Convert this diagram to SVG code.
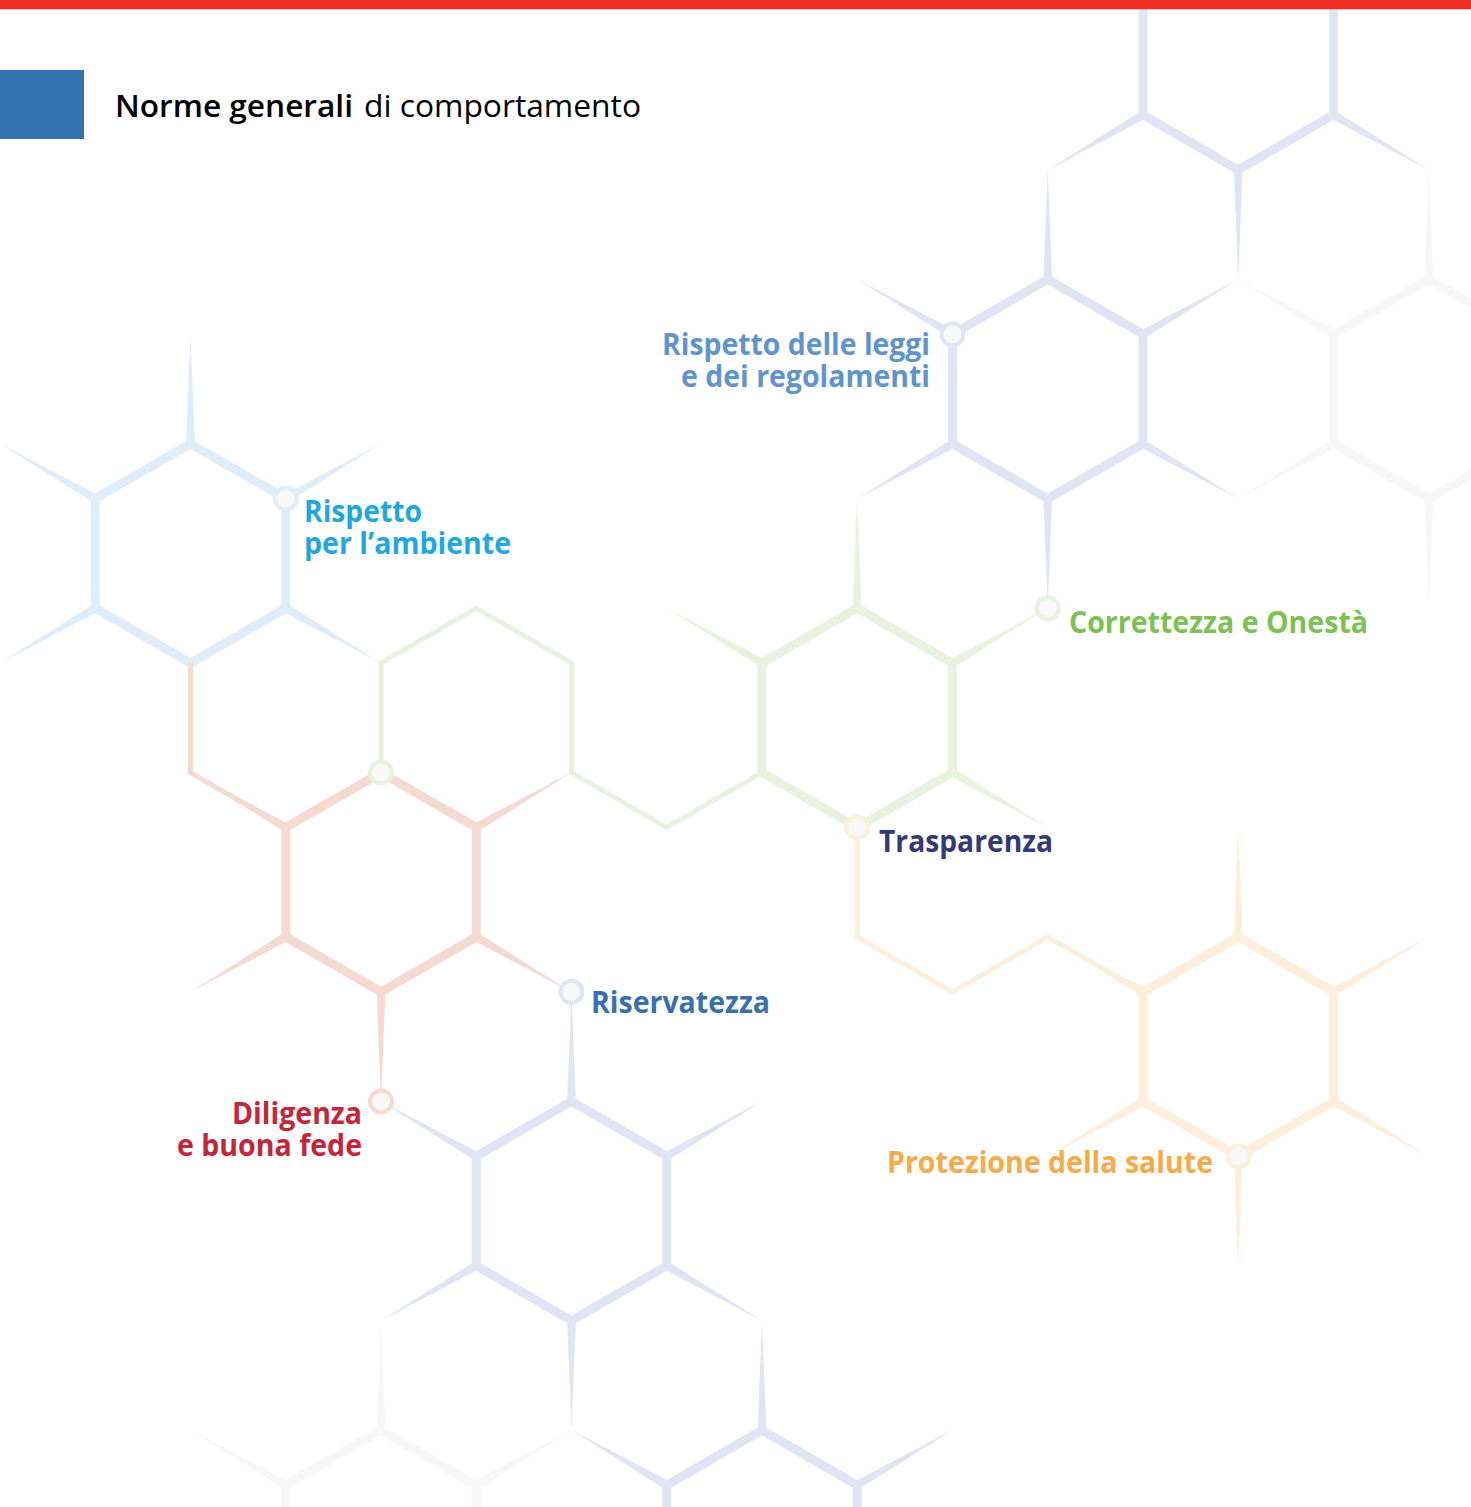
<svg xmlns="http://www.w3.org/2000/svg" xmlns:xlink="http://www.w3.org/1999/xlink" width="1471" height="1507" viewBox="0 0 1471 1507">
<defs>
<polygon id="sp" points="-3,-4.5 110,0 -3,4.5"/>
<style>
.tk{fill:none;stroke-width:9;stroke-linejoin:miter;stroke-linecap:butt}
.tn{fill:none;stroke-width:5;stroke-linejoin:miter;stroke-linecap:butt}
.gy{fill:#f7f7f7;stroke:#f7f7f7}
.lv{fill:#dfe5f2;stroke:#dfe5f2}
.bl{fill:#dfedf9;stroke:#dfedf9}
.rd{fill:#f5dad2;stroke:#f5dad2}
.gr{fill:#e7f3df;stroke:#e7f3df}
.or{fill:#fdefdc;stroke:#fdefdc}
.tk.gy,.tk.lv,.tk.bl,.tk.rd,.tk.gr,.tk.or,.tn.gy,.tn.lv,.tn.bl,.tn.rd,.tn.gr,.tn.or{fill:none}
use.gy,use.lv,use.bl,use.rd,use.gr,use.or{stroke:none}
.dot{fill:#f8f8f8;stroke-width:4}
.lbl{font-family:"Open Sans","Liberation Sans",sans-serif;font-weight:700;font-size:31px}
.ttl{font-family:"Open Sans","Liberation Sans",sans-serif;font-size:31px;fill:#000}
</style>
</defs>
<rect width="1471" height="1507" fill="#ffffff"/>

<g id="connectors">
<!-- grey right hex -->
<path class="tk gy" d="M1524,334.2 L1428.75,279.4 L1333.5,334.2 L1333.5,443.8 L1428.75,498.6 L1524,443.8"/>
<use href="#sp" class="gy" transform="translate(1428.75,279.4) rotate(-90)"/>
<use href="#sp" class="gy" transform="translate(1333.5,334.2) rotate(-150)"/>
<use href="#sp" class="gy" transform="translate(1333.5,443.8) rotate(150)"/>
<use href="#sp" class="gy" transform="translate(1428.75,498.6) rotate(90)"/>
<!-- grey bottom hex -->
<path class="tk gy" d="M285.75,1520 L285.75,1485 L381,1430.2 L476.25,1485 L476.25,1520"/>
<use href="#sp" class="gy" transform="translate(381,1430.2) rotate(-90)"/>
<use href="#sp" class="gy" transform="translate(285.75,1485) rotate(-150)"/>
<use href="#sp" class="gy" transform="translate(476.25,1485) rotate(-30)"/>

<!-- lavender top -->
<path class="tk lv" d="M1143,0 L1143,115 L1238.25,169.8 L1333.5,115 L1333.5,0"/>
<use href="#sp" class="lv" transform="translate(1143,115) rotate(150)"/>
<use href="#sp" class="lv" transform="translate(1238.25,169.8) rotate(90)"/>
<use href="#sp" class="lv" transform="translate(1333.5,115) rotate(30)"/>
<!-- lavender leggi hex -->
<path class="tk lv" d="M1047.75,279.4 L1143,334.2 L1143,443.8 L1047.75,498.6 L952.5,443.8 L952.5,334.2 Z"/>
<use href="#sp" class="lv" transform="translate(1047.75,279.4) rotate(-90)"/>
<use href="#sp" class="lv" transform="translate(1143,334.2) rotate(-30)"/>
<use href="#sp" class="lv" transform="translate(1143,443.8) rotate(30)"/>
<use href="#sp" class="lv" transform="translate(1047.75,498.6) rotate(90)"/>
<use href="#sp" class="lv" transform="translate(952.5,443.8) rotate(150)"/>
<use href="#sp" class="lv" transform="translate(952.5,334.2) rotate(-150)"/>
<!-- lavender riservatezza hex -->
<path class="tk lv" d="M571.5,1101.4 L666.75,1156.2 L666.75,1265.8 L571.5,1320.6 L476.25,1265.8 L476.25,1156.2 Z"/>
<use href="#sp" class="lv" transform="translate(571.5,1101.4) rotate(-90)"/>
<use href="#sp" class="lv" transform="translate(476.25,1156.2) rotate(-150)"/>
<use href="#sp" class="lv" transform="translate(666.75,1156.2) rotate(-30)"/>
<use href="#sp" class="lv" transform="translate(476.25,1265.8) rotate(150)"/>
<use href="#sp" class="lv" transform="translate(666.75,1265.8) rotate(30)"/>
<use href="#sp" class="lv" transform="translate(571.5,1320.6) rotate(90)"/>
<!-- lavender bottom -->
<path class="tk lv" d="M666.75,1520 L666.75,1485 L762,1430.2 L857.25,1485 L857.25,1520"/>
<use href="#sp" class="lv" transform="translate(762,1430.2) rotate(-90)"/>
<use href="#sp" class="lv" transform="translate(666.75,1485) rotate(-150)"/>
<use href="#sp" class="lv" transform="translate(857.25,1485) rotate(-30)"/>

<!-- blue hex -->
<path class="tk bl" d="M190.5,443.8 L285.75,498.6 L285.75,608.2 L190.5,663 L95.25,608.2 L95.25,498.6 Z"/>
<use href="#sp" class="bl" transform="translate(190.5,443.8) rotate(-90)"/>
<use href="#sp" class="bl" transform="translate(95.25,498.6) rotate(-150)"/>
<use href="#sp" class="bl" transform="translate(95.25,608.2) rotate(150)"/>
<use href="#sp" class="bl" transform="translate(285.75,498.6) rotate(-30)"/>
<use href="#sp" class="bl" transform="translate(285.75,608.2) rotate(30)"/>

<!-- red -->
<path class="tn rd" d="M190.5,663 L190.5,772.6 L285.75,827.4"/>
<use href="#sp" class="rd" transform="translate(285.75,827.4) rotate(-150)"/>
<path class="tk rd" d="M381,772.6 L476.25,827.4 L476.25,937 L381,991.8 L285.75,937 L285.75,827.4 Z"/>
<use href="#sp" class="rd" transform="translate(476.25,827.4) rotate(-30)"/>
<use href="#sp" class="rd" transform="translate(476.25,937) rotate(30)"/>
<use href="#sp" class="rd" transform="translate(285.75,937) rotate(150)"/>
<use href="#sp" class="rd" transform="translate(381,991.8) rotate(90)"/>

<!-- green -->
<path class="tn gr" d="M381,772.6 L381,663 L476.25,608.2 L571.5,663 L571.5,772.6 L666.75,827.4 L762,772.6"/>
<path class="tk gr" d="M857.25,608.2 L952.5,663 L952.5,772.6 L857.25,827.4 L762,772.6 L762,663 Z"/>
<use href="#sp" class="gr" transform="translate(857.25,608.2) rotate(-90)"/>
<use href="#sp" class="gr" transform="translate(762,663) rotate(-150)"/>
<use href="#sp" class="gr" transform="translate(952.5,663) rotate(-30)"/>
<use href="#sp" class="gr" transform="translate(952.5,772.6) rotate(30)"/>

<!-- orange -->
<path class="tn or" d="M857.25,827.4 L857.25,937 L952.5,991.8 L1047.75,937 L1143,991.8"/>
<use href="#sp" class="or" transform="translate(1143,991.8) rotate(-150)"/>
<path class="tk or" d="M1238.25,937 L1333.5,991.8 L1333.5,1101.4 L1238.25,1156.2 L1143,1101.4 L1143,991.8 Z"/>
<use href="#sp" class="or" transform="translate(1238.25,937) rotate(-90)"/>
<use href="#sp" class="or" transform="translate(1333.5,991.8) rotate(-30)"/>
<use href="#sp" class="or" transform="translate(1333.5,1101.4) rotate(30)"/>
<use href="#sp" class="or" transform="translate(1238.25,1156.2) rotate(90)"/>
<use href="#sp" class="or" transform="translate(1143,1101.4) rotate(150)"/>
</g>

<g id="node-ambiente">
<circle class="dot" cx="285.75" cy="498.6" r="11" stroke="#dfedf9"/>
<text class="lbl" fill="#1fa7e1"><tspan x="304" y="522" textLength="118" lengthAdjust="spacingAndGlyphs">Rispetto</tspan><tspan x="304" y="554" textLength="207" lengthAdjust="spacingAndGlyphs">per l’ambiente</tspan></text>
</g>
<g id="node-leggi">
<circle class="dot" cx="952.5" cy="334.2" r="11" stroke="#dfe5f2"/>
<text class="lbl" fill="#5f94d0"><tspan x="662" y="355" textLength="268" lengthAdjust="spacingAndGlyphs">Rispetto delle leggi</tspan><tspan x="681" y="387" textLength="249" lengthAdjust="spacingAndGlyphs">e dei regolamenti</tspan></text>
</g>
<g id="node-correttezza">
<circle class="dot" cx="1047.75" cy="608.2" r="11" stroke="#e7f3df"/>
<text class="lbl" fill="#7cc153" x="1069" y="633" textLength="299" lengthAdjust="spacingAndGlyphs">Correttezza e Onestà</text>
</g>
<g id="node-junction">
<circle class="dot" cx="381" cy="772.6" r="11" stroke="#e7f3df"/>
</g>
<g id="node-trasparenza">
<circle class="dot" cx="857.25" cy="827.4" r="11" stroke="#fdefdc"/>
<text class="lbl" fill="#343a73" x="879" y="852" textLength="174" lengthAdjust="spacingAndGlyphs">Trasparenza</text>
</g>
<g id="node-riservatezza">
<circle class="dot" cx="571.5" cy="991.8" r="11" stroke="#dfe5f2"/>
<text class="lbl" fill="#386fae" x="591" y="1013" textLength="179" lengthAdjust="spacingAndGlyphs">Riservatezza</text>
</g>
<g id="node-diligenza">
<circle class="dot" cx="381" cy="1101.4" r="11" stroke="#f5dad2"/>
<text class="lbl" fill="#c4253b"><tspan x="232" y="1124" textLength="130" lengthAdjust="spacingAndGlyphs">Diligenza</tspan><tspan x="177" y="1156" textLength="185" lengthAdjust="spacingAndGlyphs">e buona fede</tspan></text>
</g>
<g id="node-protezione">
<circle class="dot" cx="1238.25" cy="1156.2" r="11" stroke="#fdefdc"/>
<text class="lbl" fill="#f8a948" x="887" y="1173" textLength="326" lengthAdjust="spacingAndGlyphs">Protezione della salute</text>
</g>

<g id="header">
<rect x="0" y="0" width="1471" height="9.3" fill="#ee2e24"/>
<rect x="0" y="70" width="84" height="69" fill="#3671b0"/>
<text class="ttl" x="115" y="117" font-weight="600" textLength="238" lengthAdjust="spacingAndGlyphs">Norme generali</text>
<text class="ttl" x="364" y="117" font-weight="400" textLength="277" lengthAdjust="spacingAndGlyphs">di comportamento</text>
</g>
</svg>
